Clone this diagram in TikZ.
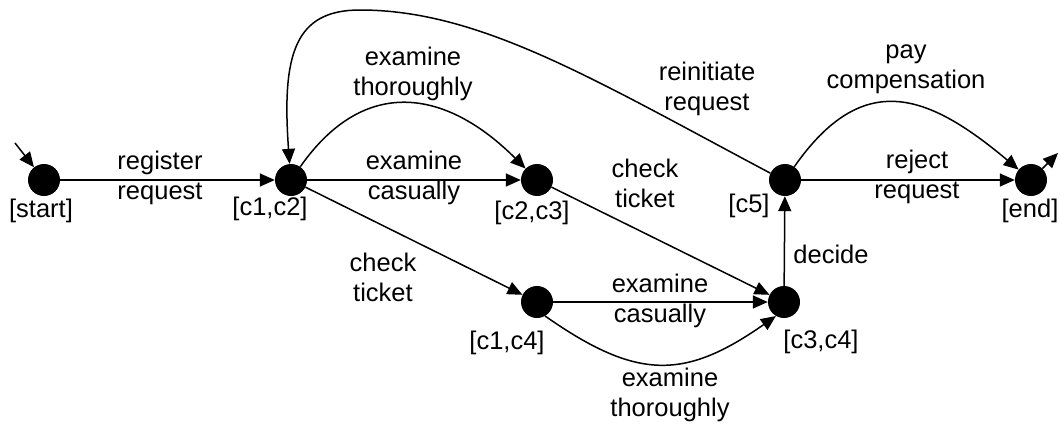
\documentclass[tikz,border=0pt]{standalone}
\usepackage{fontspec}
\setmainfont{Liberation Sans}
\usetikzlibrary{arrows.meta}
\begin{document}
\begin{tikzpicture}[x=1pt,y=1pt,
  state/.style={circle,fill=black,minimum size=32pt,inner sep=0pt},
  arr/.style={line width=1.5pt,-{Triangle[length=15pt,width=13pt]}},
  lab/.style={font=\fontsize{25.5}{30}\selectfont,align=center,inner sep=0pt,
    execute at begin node=\strut,execute at end node=\strut},
  nlab/.style={font=\fontsize{25.5}{30}\selectfont,inner sep=0pt,
    execute at begin node=\strut}]
\fill[white] (0,0) rectangle (1060,-423);
\useasboundingbox (0,0) rectangle (1060,-423);
% states
\node[state] (start) at (44,-180) {};
\node[state] (c12) at (291,-180) {};
\node[state] (c23) at (537,-180) {};
\node[state] (c14) at (537,-302) {};
\node[state] (c34) at (784,-302) {};
\node[state] (c5) at (785,-180) {};
\node[state] (end) at (1031,-180) {};
% state labels
\node[nlab] (lstart) at (41,-211) {[start]};
\node[nlab] (lc12) at (270,-209) {[c1,c2]};
\node[nlab] (lc23) at (532,-213) {[c2,c3]};
\node[nlab] (lc14) at (507,-343) {[c1,c4]};
\node[nlab] (lc34) at (821,-342) {[c3,c4]};
\node[nlab] (lc5) at (749,-206) {[c5]};
\node[nlab] (lend) at (1030,-211) {[end]};
% coordinates
\coordinate (init) at (15,-143);
\coordinate (fin) at (1058,-153);
\coordinate (top) at (360,-10);
% connectors
\draw[arr] (init) -- (start);
\draw[arr] (end) -- (fin);
\draw[arr] (start) -- (c12);
\draw[arr] (c12) -- (c23);
\draw[arr] (c12) to[out=55,in=135,looseness=1.27] (c23);
\draw[arr] (c12) -- (c14);
\draw[arr] (c23) -- (c34);
\draw[arr] (c14) -- (c34);
\draw[arr] (c14.-60) .. controls +(-35:112) and +(-145:112) .. (c34.-120);
\draw[arr] (c34) -- (c5);
\draw[arr] (c5) -- (end);
\draw[arr] (c5) to[out=55,in=140,looseness=1.36] (end);
\draw[arr] (c5.155) .. controls +(-176.6,93.8) and +(120,0) .. (top)
  .. controls +(-65,0) and +(-8,110) .. (c12.95);
% edge labels
\node[lab] (t1) at (160,-180) {register\\request};
\node[lab] (t2) at (414,-180) {examine\\casually};
\node[lab] (t3) at (413,-76) {examine\\thoroughly};
\node[lab] (t4) at (383,-282) {check\\ticket};
\node[lab] (t5) at (645,-188) {check\\ticket};
\node[lab] (t6) at (660,-303) {examine\\casually};
\node[lab] (t7) at (670,-396.5) {examine\\thoroughly};
\node[nlab] (t8) at (831,-257) {decide};
\node[lab] (t9) at (917,-179) {reject\\request};
\node[lab] (t10) at (906,-71.5) {pay\\compensation};
\node[lab] (t11) at (707,-91) {reinitiate\\request};
\end{tikzpicture}
\end{document}
